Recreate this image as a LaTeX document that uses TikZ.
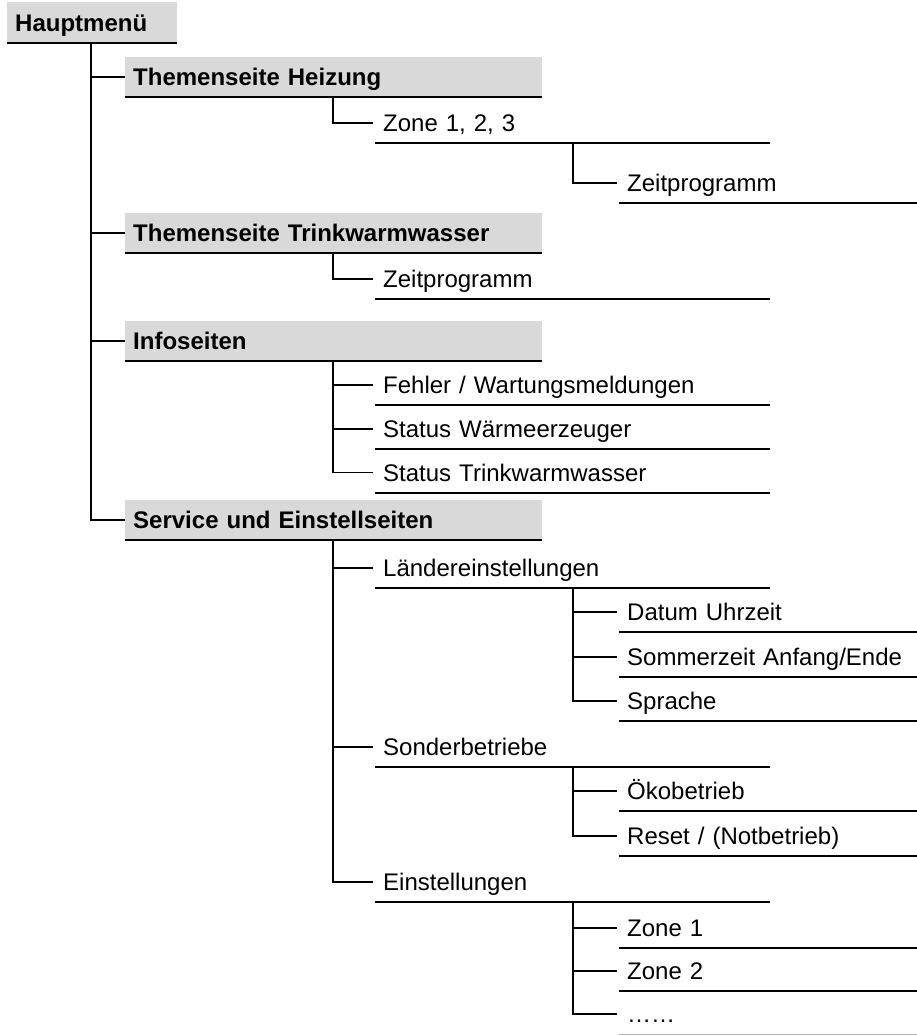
\documentclass[tikz,border=0pt]{standalone}
\usepackage{fontspec}
\setmainfont{Liberation Sans}
\definecolor{boxgray}{RGB}{217,217,217}
\begin{document}
\begin{tikzpicture}[x=1pt,y=-1pt,
  base/.style={rectangle, inner xsep=8pt, inner ysep=0pt, minimum height=40pt,
    text height=17.2pt, text depth=0pt, align=left, anchor=west,
    font=\fontsize{24}{28}\selectfont},
  lvlzero/.style={base, fill=boxgray, text width=154pt, font=\fontsize{24}{28}\selectfont\bfseries},
  lvlone/.style={base, fill=boxgray, text width=401pt, font=\fontsize{24}{28}\selectfont\bfseries},
  lvltwo/.style={base, text width=379pt},
  lvlthree/.style={base, text width=282pt},
  uline/.style={line width=1.8pt, black},
  conn/.style={line width=1.8pt, black}]
\useasboundingbox (0,0) rectangle (917,1035);

\node[lvlzero] (hm) at (7,22.5) {Hauptmenü};
\node[lvlone] (h) at (125,77) {Themenseite Heizung};
\node[lvlone] (t) at (125,233) {Themenseite Trinkwarmwasser};
\node[lvlone] (i) at (125,341) {Infoseiten};
\node[lvlone] (s) at (125,520) {Service und Einstellseiten};

\node[lvltwo] (hz) at (375,123) {Zone 1, 2, 3};
\node[lvlthree] (hzz) at (619,183) {Zeitprogramm};
\node[lvltwo] (tz) at (375,279) {Zeitprogramm};
\node[lvltwo] (ia) at (375,385) {Fehler / Wartungsmeldungen};
\node[lvltwo] (ib) at (375,429) {Status Wärmeerzeuger};
\node[lvltwo] (ic) at (375,472.5) {Status Trinkwarmwasser};
\node[lvltwo] (sa) at (375,568) {Ländereinstellungen};
\node[lvlthree] (saa) at (619,612) {Datum Uhrzeit};
\node[lvlthree] (sab) at (619,657) {Sommerzeit Anfang/Ende};
\node[lvlthree] (sac) at (619,701) {Sprache};
\node[lvltwo] (sb) at (375,747) {Sonderbetriebe};
\node[lvlthree] (sba) at (619,791) {Ökobetrieb};
\node[lvlthree] (sbb) at (619,836) {Reset / (Notbetrieb)};
\node[lvltwo] (sc) at (375,882) {Einstellungen};
\node[lvlthree] (sca) at (619,928) {Zone 1};
\node[lvlthree] (scb) at (619,971) {Zone 2};
\node[lvlthree] (scc) at (619,1014) {……};

% underlines
\foreach \n in {hm,h,t,i,s,hz,hzz,tz,ia,ib,ic,sa,saa,sab,sac,sb,sba,sbb,sc,sca,scb}
  \draw[uline] (\n.south west) -- (\n.south east);
\draw[line width=1.4pt, black!30] (scc.south west) -- (scc.south east);

% trunk
\foreach \n in {h,t,i,s}
  \draw[conn] ([xshift=84pt]hm.south west) |- (\n.west);

% level one to level two
\draw[conn] ([xshift=208pt]h.south west) |- ([xshift=-2pt]hz.west);
\draw[conn] ([xshift=208pt]t.south west) |- ([xshift=-2pt]tz.west);
\foreach \n in {ia,ib,ic}
  \draw[conn] ([xshift=208pt]i.south west) |- ([xshift=-2pt]\n.west);
\foreach \n in {sa,sb,sc}
  \draw[conn] ([xshift=208pt]s.south west) |- ([xshift=-2pt]\n.west);

% level two to level three
\draw[conn] ([xshift=198pt]hz.south west) |- ([xshift=-2pt]hzz.west);
\foreach \n in {saa,sab,sac}
  \draw[conn] ([xshift=198pt]sa.south west) |- ([xshift=-2pt]\n.west);
\foreach \n in {sba,sbb}
  \draw[conn] ([xshift=198pt]sb.south west) |- ([xshift=-2pt]\n.west);
\foreach \n in {sca,scb,scc}
  \draw[conn] ([xshift=198pt]sc.south west) |- ([xshift=-2pt]\n.west);
\end{tikzpicture}
\end{document}
